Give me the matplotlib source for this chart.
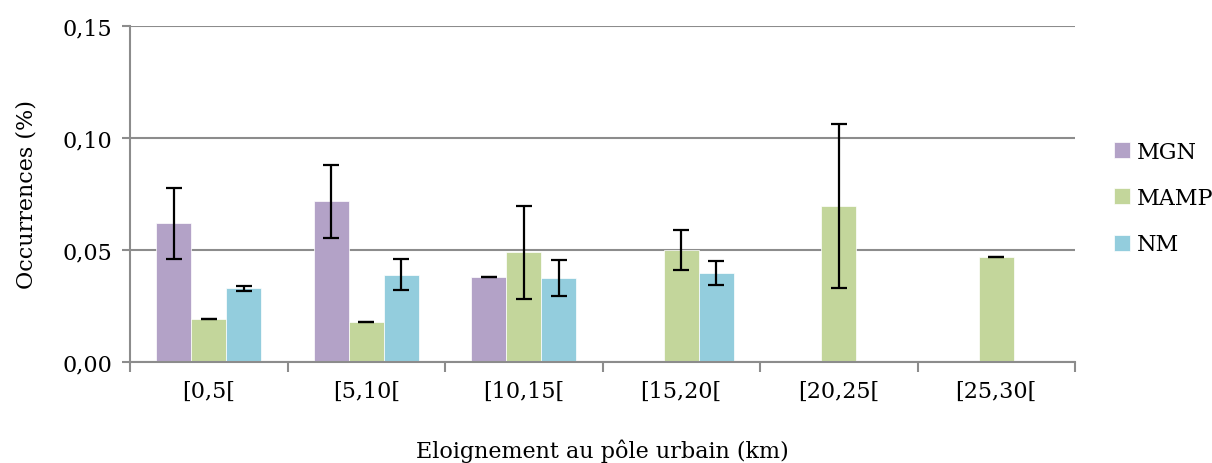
import numpy as np
import matplotlib
matplotlib.use("Agg")
import matplotlib.pyplot as plt
from matplotlib.ticker import FuncFormatter

categories = ["[0,5[", "[5,10[", "[10,15[", "[15,20[", "[20,25[", "[25,30["]
series = ["MGN", "MAMP", "NM"]
mgn = [0.0619, 0.0717, 0.0379, np.nan, np.nan, np.nan]
mamp = [0.0191, 0.0180, 0.0490, 0.0499, 0.0698, 0.0470]
nm = [0.0329, 0.0390, 0.0374, 0.0399, np.nan, np.nan]
mgn_err = [0.0158, 0.0164, 0.0, np.nan, np.nan, np.nan]
mamp_err = [0.0, 0.0, 0.0208, 0.0090, 0.0366, 0.0]
nm_err = [0.0012, 0.0070, 0.0080, 0.0054, np.nan, np.nan]
colors = ["#B3A2C7", "#C3D69B", "#93CDDD"]

plt.rcParams['font.family'] = ['DejaVu Serif']
FS = 16

fig = plt.figure(figsize=(12.12, 4.64), dpi=100)
ax = fig.add_axes([130/1212, 1-363/464, (1075-130)/1212, (363-27)/464])

x = np.arange(len(categories))
w = 1/4.5
vals = [mgn, mamp, nm]
errs = [mgn_err, mamp_err, nm_err]
for i, (v, e, c, name) in enumerate(zip(vals, errs, colors, series)):
    pos = x + (i-1)*w
    v = np.array(v, dtype=float)
    e = np.array(e, dtype=float)
    ax.bar(pos, np.nan_to_num(v), width=w, color=c, label=name, zorder=2,
           edgecolor='white', linewidth=0.5)
    m = ~np.isnan(v)
    ax.errorbar(pos[m], v[m], yerr=e[m], fmt='none', ecolor='black',
                elinewidth=1.6, capsize=6, capthick=1.6, zorder=3)

ax.set_xlim(-0.5, len(categories)-0.5)
ax.set_ylim(0, 0.15)
ax.set_yticks([0, 0.05, 0.10, 0.15])
ax.yaxis.set_major_formatter(FuncFormatter(lambda v, p: f"{v:.2f}".replace('.', ',')))
ax.yaxis.grid(True, color='#8c8c8c', linewidth=1.5, zorder=0)
ax.set_axisbelow(True)
ax.set_xticks(x)
ax.set_xticklabels(categories)
ax.set_xticks(np.arange(-0.5, len(categories)), minor=True)
ax.tick_params(axis='x', which='major', length=0, pad=13, labelsize=FS)
ax.tick_params(axis='x', which='minor', length=7, color='#8c8c8c', width=1.5)
ax.tick_params(axis='y', length=6, color='#8c8c8c', width=1.5, labelsize=FS, pad=7)
for s in ['top', 'right']:
    ax.spines[s].set_visible(False)
for s in ['left', 'bottom']:
    ax.spines[s].set_color('#8c8c8c')
    ax.spines[s].set_linewidth(1.5)

ax.set_ylabel("Occurrences (%)", fontsize=FS, labelpad=18)
fig.text((130+1075)/2/1212, 1-451/464, "Eloignement au pôle urbain (km)",
         ha='center', va='center', fontsize=FS)

leg = ax.legend(loc='center left', bbox_to_anchor=(1.0197, 0.488), frameon=False,
                fontsize=FS, handlelength=0.75, handleheight=0.75, labelspacing=1.1,
                handletextpad=0.3)

fig.savefig("out.png", dpi=100)
